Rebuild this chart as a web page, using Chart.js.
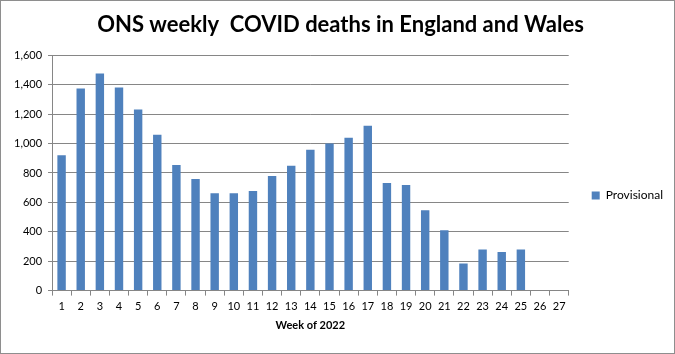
<!DOCTYPE html>
<html>
<head>
<meta charset="utf-8">
<script src="https://cdn.jsdelivr.net/npm/chart.js@4.4.1/dist/chart.umd.min.js"></script>
<style>
  html, body { margin: 0; padding: 0; background: #fff; }
  #wrap { width: 675px; height: 354px; box-sizing: border-box; border: 1px solid #8e8e8e; position: relative; }
  canvas { display: block; }
</style>
</head>
<body>
<div id="wrap"><canvas id="chart"></canvas></div>
<script>
// week numbers on the x axis
var weeks = ["1","2","3","4","5","6","7","8","9","10","11","12","13","14","15","16","17","18","19","20","21","22","23","24","25","26","27"];
// provisional weekly deaths (weeks 26 and 27 not yet reported)
var provisional = [920, 1375, 1477, 1382, 1232, 1060, 855, 760, 663, 663, 678, 780, 850, 958, 1000, 1040, 1121, 732, 718, 547, 410, 185, 280, 262, 280, null, null];
// y axis ticks
var yTicks = [0, 200, 400, 600, 800, 1000, 1200, 1400, 1600];

var font = "Lato, 'Open Sans', sans-serif";
var gridColour = "#868686";

var ctx = document.getElementById("chart").getContext("2d");
var chart = new Chart(ctx, {
	type: "bar",
	data: {
		labels: weeks,
		datasets: [{
			label: "Provisional",
			data: provisional,
			backgroundColor: "#4F81BD",
			borderWidth: 0,
			barPercentage: 0.44,
			categoryPercentage: 1.0
		}]
	},
	options: {
		responsive: true,
		maintainAspectRatio: false,
		animation: false,
		layout: { padding: { left: 7, right: 1, top: 4, bottom: 17 } },
		plugins: {
			title: {
				display: true,
				text: "ONS weekly  COVID deaths in England and Wales",
				color: "#000",
				font: { family: font, size: 22, weight: "bold" },
				padding: { top: 7, bottom: 17 }
			},
			legend: {
				position: "right",
				// blank title only used to nudge the legend item down
				title: { display: true, text: " ", padding: { top: 45 }, font: { size: 4 } },
				labels: {
					color: "#000",
					boxWidth: 8,
					boxHeight: 8,
					padding: 23,
					font: { family: font, size: 12 }
				}
			},
			tooltip: { enabled: false }
		},
		scales: {
			x: {
				grid: {
					offset: true,
					drawOnChartArea: false,
					color: gridColour,
					tickLength: 5
				},
				border: { color: gridColour },
				ticks: { color: "#000", maxRotation: 0, autoSkip: false, padding: 4, font: { family: font, size: 11 } },
				title: { display: true, text: "Week of 2022", color: "#000", padding: { top: 2 }, font: { family: font, size: 11, weight: "bold" } }
			},
			y: {
				min: 0,
				max: 1600,
				afterBuildTicks: function(axis) {
					axis.ticks = yTicks.map(function(v) { return { value: v }; });
				},
				grid: { color: gridColour, tickLength: 4 },
				border: { color: gridColour },
				ticks: {
					color: "#000",
					padding: 6,
					font: { family: font, size: 11 },
					callback: function(v) { return v.toLocaleString("en-GB"); }
				}
			}
		}
	}
});
</script>
</body>
</html>
